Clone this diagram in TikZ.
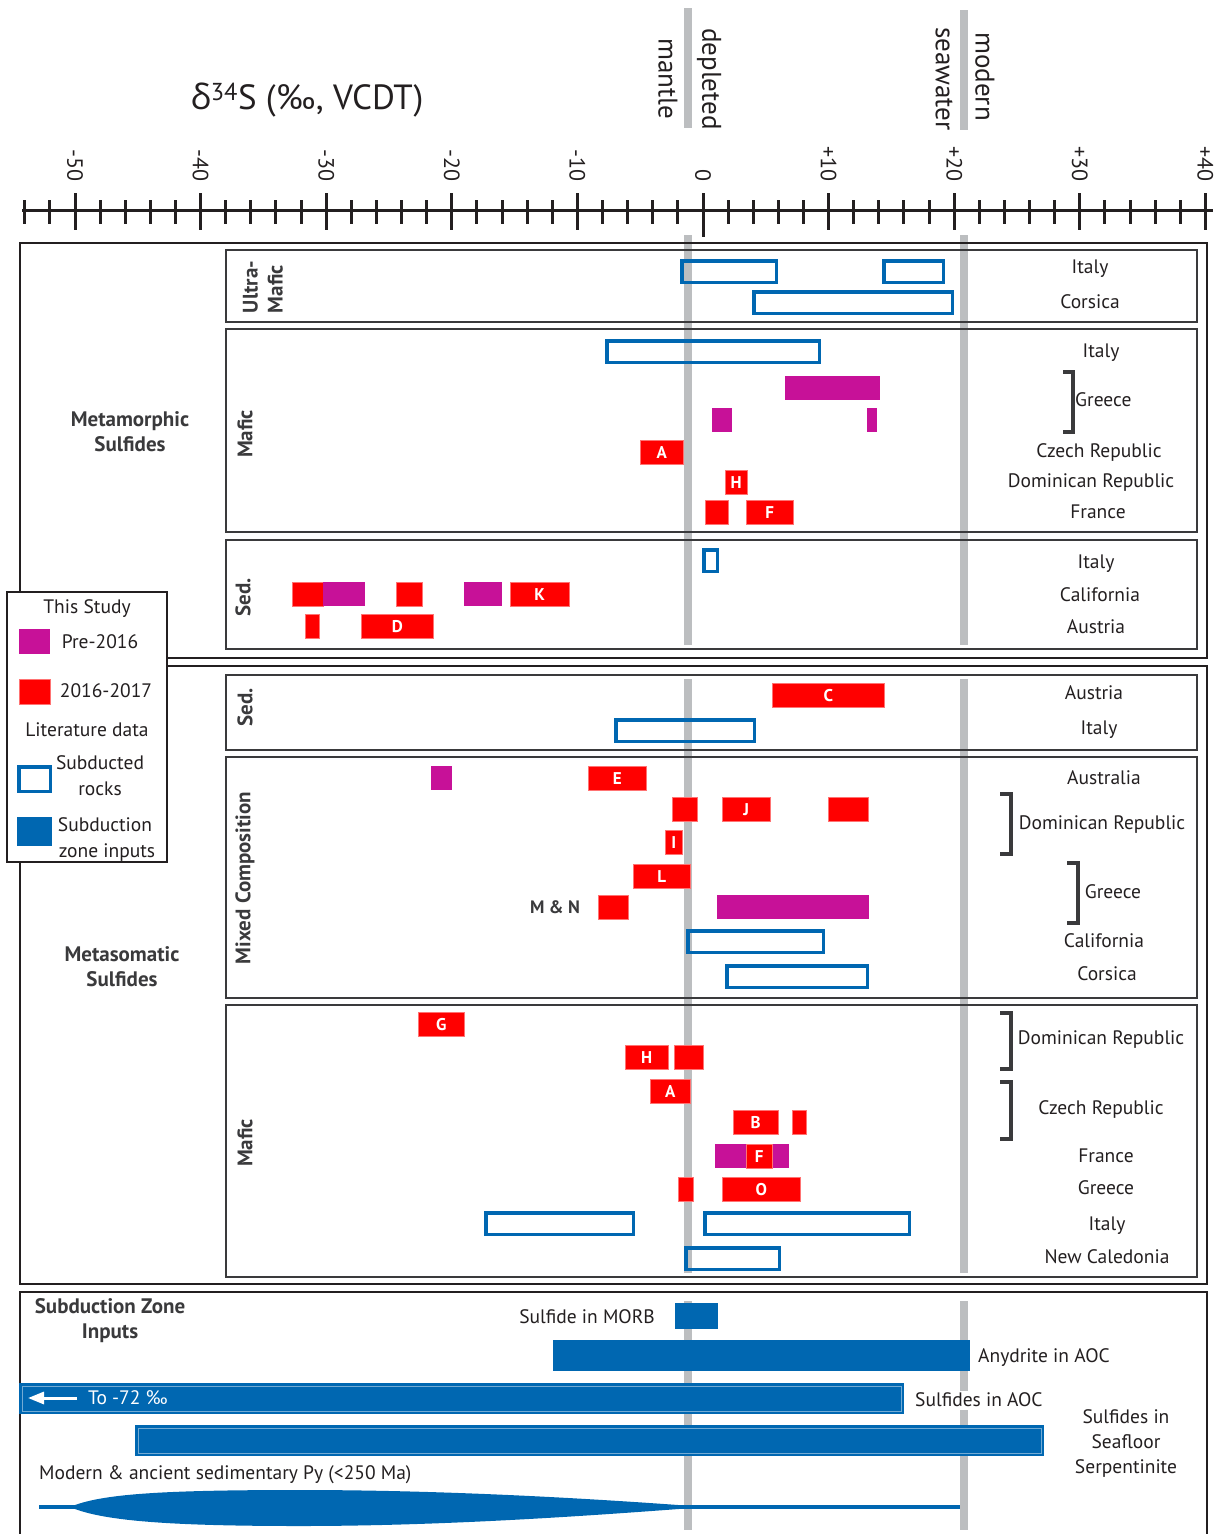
\documentclass[tikz,border=0pt]{standalone}
\usepackage{fontspec}
\setmainfont{PT Sans}
\newfontfamily\grkfont{Open Sans}
\usetikzlibrary{arrows.meta}

\definecolor{axisdark}{RGB}{35,31,32}
\definecolor{paneldark}{RGB}{58,58,60}
\definecolor{studyred}{RGB}{255,0,0}
\definecolor{studymag}{RGB}{199,17,152}
\definecolor{litblue}{RGB}{0,103,177}
\definecolor{refgrey}{RGB}{188,190,192}

\begin{document}
\begin{tikzpicture}[x=1pt,y=-1pt,
    outerbox/.style={draw=axisdark,line width=1.4pt},
    panelbox/.style={draw=paneldark,line width=2.4pt},
    refline/.style={draw=refgrey,line width=8pt},
    axtick/.style={draw=axisdark,line width=3pt},
    ticklbl/.style={font=\fontsize{22}{22}\selectfont,text=axisdark,rotate=-90,anchor=east,inner sep=0pt},
    reflbl/.style={font=\fontsize{27}{27}\selectfont,text=axisdark,rotate=-90,anchor=west,inner sep=0pt},
    barbox/.style={anchor=north west,inner sep=0pt,minimum height=24pt,text=white,
                   font=\fontsize{17}{17}\selectfont\bfseries,text height=12pt,text depth=0pt},
    redbar/.style={barbox,fill=studyred,draw=studyred!55!white,line width=0.5pt},
    magbar/.style={barbox,fill=studymag},
    litbar/.style={barbox,draw=litblue,line width=3.5pt,minimum height=21.5pt},
    inbar/.style={anchor=north west,inner sep=0pt,fill=litblue},
    site/.style={font=\fontsize{19.5}{19.5}\selectfont,text=axisdark,inner sep=0pt,text height=13pt,text depth=0pt},
    sitemulti/.style={font=\fontsize{19.5}{25}\selectfont,text=axisdark,inner sep=0pt,align=center},
    grouplbl/.style={font=\fontsize{21}{25}\selectfont\bfseries,text=paneldark,align=center,inner sep=0pt},
    rock/.style={font=\fontsize{21}{25}\selectfont\bfseries,text=paneldark,rotate=90,inner sep=0pt},
    brack/.style={draw=paneldark,line width=3.5pt}]

  \useasboundingbox (0,0) rectangle (1215,1534);

  % title and axis
  \node[font=\fontsize{35}{35}\selectfont,text=axisdark] (ttl) at (307,100)
       {{\grkfont δ}\textsuperscript{34}S (‰, VCDT)};
  \draw[axtick] (22,210) -- (1213,210);
  \foreach \v in {-54,-52,...,40}
    \draw[axtick] ({703+12.56*\v},200) -- ({703+12.56*\v},224);
  \foreach \v/\t [count=\i] in {-50/-50,-40/-40,-30/-30,-20/-20,-10/-10,0/0,10/+10,20/+20,30/+30,40/+40}{
    \draw[axtick] ({703+12.56*\v},193) -- ({703+12.56*\v},230);
    \node[ticklbl] (lab\i) at ({703+12.56*\v},182) {\t};
  }
  \draw[axtick] (703,193) -- (703,237);

  % reference values
  \draw[refline] (688,8) -- (688,128);
  \draw[refline] (964,10) -- (964,130);
  \node[reflbl] (depl) at (709,28) {depleted};
  \node[reflbl] (mant) at (668,38) {mantle};
  \node[reflbl] (seaw) at (944,27) {seawater};
  \node[reflbl] (modn) at (985,32) {modern};
  \foreach \x in {688,964}{
    \draw[refline] (\x,235) -- (\x,645);
    \draw[refline] (\x,679) -- (\x,1273);
    \draw[refline] (\x,1301) -- (\x,1530);
  }

  % frames and panels
  \draw[outerbox] (20,243) rectangle (1207,658);
  \draw[outerbox] (20,666) rectangle (1207,1284);
  \draw[outerbox] (20,1292) rectangle (1207,1545);
  \draw[panelbox] (226,250) rectangle (1197,322);
  \draw[panelbox] (226,329) rectangle (1197,532);
  \draw[panelbox] (226,540) rectangle (1197,649);
  \draw[panelbox] (226,675) rectangle (1197,750);
  \draw[panelbox] (226,757) rectangle (1197,998);
  \draw[panelbox] (226,1005) rectangle (1197,1277);

  \node[grouplbl] (metam) at (130,432) {Metamorphic\\Sulfides};
  \node[grouplbl] (metas) at (122,967) {Metasomatic\\Sulfides};
  \node[grouplbl] (szi) at (110,1321) {Subduction Zone\\Inputs};
  \node[rock,align=left] (ultra) at (263,287) {Ultra-\\Mafic};
  \node[rock] (maf1) at (245,434) {Mafic};
  \node[rock] (sed1) at (243,597) {Sed.};
  \node[rock] (sed2) at (245,707) {Sed.};
  \node[rock] (mix) at (245,878) {Mixed Composition};
  \node[rock] (maf2) at (245,1143) {Mafic};

  % metamorphic: ultramafic
  \node[litbar,minimum width=94.5pt] (um1) at (680,259) {};
  \node[litbar,minimum width=59.5pt] (um2) at (882,259) {};
  \node[litbar,minimum width=198.5pt] (um3) at (752,290) {};
  \node[site] (umIt) at (1090,267) {Italy};
  \node[site] (umCo) at (1090,302) {Corsica};

  % metamorphic: mafic
  \node[litbar,minimum width=212.5pt] (mf1) at (605,339) {};
  \node[magbar,minimum width=95pt] (mf2) at (785,376) {};
  \node[magbar,minimum width=20pt] (mf3) at (712,408) {};
  \node[magbar,minimum width=10pt] (mf4) at (867,408) {};
  \node[redbar,minimum width=43pt] (mfA) at (640,440) {A};
  \node[redbar,minimum width=22pt] (mfH) at (725,470) {H};
  \node[redbar,minimum width=23pt] (mf5) at (705,500) {};
  \node[redbar,minimum width=47pt] (mfF) at (746,500) {F};
  \draw[brack] (1063,372) -- (1073,372) -- (1073,432) -- (1063,432);
  \node[site] (mfIt) at (1101,351) {Italy};
  \node[site,anchor=west] (mfGr) at (1075,400) {Greece};
  \node[site] (mfCz) at (1099,451) {Czech Republic};
  \node[site] (mfDo) at (1091,481) {Dominican Republic};
  \node[site] (mfFr) at (1098,512) {France};

  % metamorphic: sediments
  \node[litbar,minimum width=13.5pt] (sd1) at (702,548) {};
  \node[redbar,minimum width=31pt] (sd2) at (292,582) {};
  \node[magbar,minimum width=42pt] (sd3) at (323,582) {};
  \node[redbar,minimum width=26pt] (sd4) at (396,582) {};
  \node[magbar,minimum width=38pt] (sd5) at (464,582) {};
  \node[redbar,minimum width=59pt] (sdK) at (510,582) {K};
  \node[redbar,minimum width=14pt] (sd6) at (305,614) {};
  \node[redbar,minimum width=72pt] (sdD) at (361,614) {D};
  \node[site] (sdIt) at (1096,562) {Italy};
  \node[site] (sdCa) at (1100,595) {California};
  \node[site] (sdAu) at (1096,627) {Austria};

  % metasomatic: sediments
  \node[redbar,minimum width=112pt] (ssC) at (772,683) {C};
  \node[litbar,minimum width=138.5pt] (ss1) at (614,718) {};
  \node[site] (ssAu) at (1094,693) {Austria};
  \node[site] (ssIt) at (1099,728) {Italy};

  % metasomatic: mixed composition
  \node[magbar,minimum width=21pt] (mx1) at (431,766) {};
  \node[redbar,minimum width=58pt] (mxE) at (588,766) {E};
  \node[redbar,minimum width=25pt] (mx2) at (672,797) {};
  \node[redbar,minimum width=48pt] (mxJ) at (722,797) {J};
  \node[redbar,minimum width=40pt] (mx3) at (828,797) {};
  \node[redbar,minimum width=17pt] (mxI) at (665,830) {I};
  \node[redbar,minimum width=57pt] (mxL) at (633,864) {L};
  \node[redbar,minimum width=30pt] (mx4) at (598,895) {};
  \node[magbar,minimum width=152pt] (mx5) at (717,895) {};
  \node[litbar,minimum width=135.5pt] (mx6) at (686,929) {};
  \node[litbar,minimum width=140.5pt] (mx7) at (725,964) {};
  \node[font=\fontsize{18}{18}\selectfont\bfseries,text=paneldark] (mxMN) at (555,907) {M \& N};
  \draw[brack] (1000,794) -- (1011,794) -- (1011,854) -- (1000,854);
  \draw[brack] (1067,863) -- (1078,863) -- (1078,923) -- (1067,923);
  \node[site] (mxAu) at (1104,778) {Australia};
  \node[site] (mxDo) at (1102,823) {Dominican Republic};
  \node[site] (mxGr) at (1113,892) {Greece};
  \node[site] (mxCa) at (1104,941) {California};
  \node[site] (mxCo) at (1107,974) {Corsica};

  % metasomatic: mafic
  \node[redbar,minimum width=46pt] (msG) at (418,1012) {G};
  \node[redbar,minimum width=43pt] (msH) at (625,1045) {H};
  \node[redbar,minimum width=29pt] (ms1) at (674,1045) {};
  \node[redbar,minimum width=40pt] (msA) at (650,1079) {A};
  \node[redbar,minimum width=45pt] (msB) at (733,1110) {B};
  \node[redbar,minimum width=14pt] (ms2) at (792,1110) {};
  \node[magbar,minimum width=74pt] (ms3) at (715,1144) {};
  \node[redbar,minimum width=26pt] (msF) at (746,1144) {F};
  \node[redbar,minimum width=15pt] (ms4) at (678,1177) {};
  \node[redbar,minimum width=78pt] (msO) at (722,1177) {O};
  \node[litbar,minimum width=147.5pt] (ms5) at (484,1211) {};
  \node[litbar,minimum width=204.5pt] (ms6) at (703,1211) {};
  \node[litbar,minimum width=93.5pt] (ms7) at (684,1246) {};
  \draw[brack] (1000,1013) -- (1011,1013) -- (1011,1069) -- (1000,1069);
  \draw[brack] (1000,1082) -- (1011,1082) -- (1011,1139) -- (1000,1139);
  \node[site] (msDo) at (1101,1038) {Dominican Republic};
  \node[site] (msCz) at (1101,1108) {Czech Republic};
  \node[site] (msFr) at (1106,1156) {France};
  \node[site] (msGr) at (1106,1188) {Greece};
  \node[site] (msIt) at (1107,1224) {Italy};
  \node[site] (msNc) at (1107,1257) {New Caledonia};

  % subduction zone inputs
  \node[inbar,minimum width=43pt,minimum height=26pt] (morb) at (675,1303) {};
  \node[inbar,minimum width=417pt,minimum height=31pt] (anhy) at (553,1340) {};
  \node[inbar,minimum width=885pt,minimum height=31pt] (aoc) at (19,1383) {};
  \node[inbar,minimum width=909pt,minimum height=31pt] (serp) at (135,1425) {};
  \draw[litblue!55!white,line width=0.6pt] (22,1386) rectangle (901,1411);
  \draw[litblue!55!white,line width=0.6pt] (138,1428) rectangle (1041,1453);
  \coordinate (arrS) at (77,1398);
  \coordinate (arrE) at (28,1398);
  \draw[white,line width=3pt,-{Triangle[length=16pt,width=12pt]}] (arrS) -- (arrE);
  \node[site,text=white,anchor=west] (to72) at (88,1398) {To -72 ‰};
  \node[site,anchor=east] (morbl) at (655,1317) {Sulfide in MORB};
  \node[site,anchor=west] (anhyl) at (978,1356) {Anydrite in AOC};
  \node[site,anchor=west,fill=white,inner sep=3pt] (aocl) at (912,1400) {Sulfides in AOC};
  \node[sitemulti] (serpl) at (1126,1443) {Sulfides in\\Seafloor\\Serpentinite};
  \node[site,anchor=west] (pyl) at (39,1473) {Modern \& ancient sedimentary Py (<250 Ma)};
  \coordinate (pyA) at (39,1507);
  \coordinate (pyB) at (960,1507);
  \draw[litblue,line width=4pt] (pyA) -- (pyB);
  \fill[litblue] (70,1507) .. controls (100,1494) and (160,1490) .. (300,1490)
     .. controls (450,1490) and (600,1499) .. (705,1507)
     .. controls (600,1515) and (450,1526) .. (300,1526)
     .. controls (160,1526) and (100,1520) .. (70,1507) -- cycle;

  % legend
  \draw[outerbox,fill=white] (7,592) rectangle (167,862);
  \node[site] (lgStudy) at (87,607) {This Study};
  \node[magbar,minimum width=31pt,minimum height=25pt] (lgMag) at (19,629) {};
  \node[site] (lgPre) at (100,642) {Pre-2016};
  \node[redbar,minimum width=31pt,minimum height=25pt] (lgRed) at (19,679) {};
  \node[site] (lgNew) at (106,691) {2016-2017};
  \node[site] (lgLit) at (87,730) {Literature data};
  \node[litbar,minimum width=31.5pt,minimum height=24.5pt] (lgSub) at (17,765) {};
  \node[site] (lgSubA) at (100,763) {Subducted};
  \node[site] (lgSubB) at (100,789) {rocks};
  \node[inbar,minimum width=35pt,minimum height=29pt] (lgIn) at (17,817) {};
  \node[site] (lgInA) at (105,825) {Subduction};
  \node[site] (lgInB) at (107,851) {zone inputs};
\end{tikzpicture}
\end{document}
